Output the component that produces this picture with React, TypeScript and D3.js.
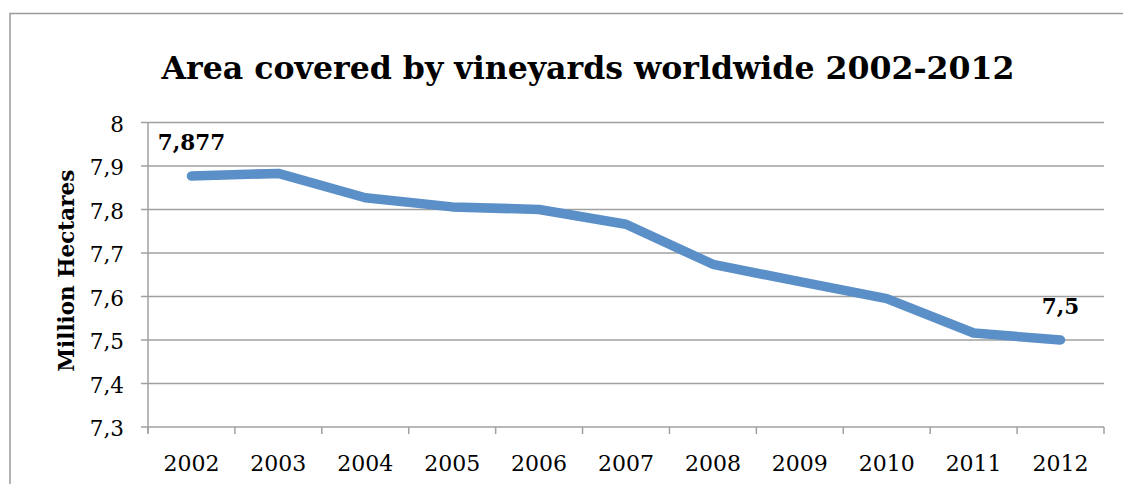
import React from "react";
import * as d3 from "d3";

const years: string[] = ["2002", "2003", "2004", "2005", "2006", "2007", "2008", "2009", "2010", "2011", "2012"];
const hectares: number[] = [7.877, 7.883, 7.827, 7.806, 7.8, 7.766, 7.674, 7.634, 7.595, 7.516, 7.5];
const yTicks: number[] = [7.3, 7.4, 7.5, 7.6, 7.7, 7.8, 7.9, 8];
const labelled: { index: number; text: string }[] = [
  { index: 0, text: "7,877" },
  { index: 10, text: "7,5" },
];
const title = "Area covered by vineyards worldwide 2002-2012";
const yTitle = "Million Hectares";

const W = 1123;
const H = 484;
const M = { left: 148, right: 1104, top: 122.5, bottom: 427 };
const FONT = "'DejaVu Serif', serif";
const GRID = "#a0a0a0";

export default function App() {
  const x = d3.scaleBand<string>().domain(years).range([M.left, M.right]);
  const y = d3.scaleLinear().domain([7.3, 8]).range([M.bottom, M.top]);
  const cx = (i: number) => (x(years[i]) as number) + x.bandwidth() / 2;
  const line = d3
    .line<number>()
    .x((_, i) => cx(i))
    .y((d) => y(d));
  const boundaries = years.map((yr) => x(yr) as number).concat([M.right]);

  return (
    <svg
      width={W}
      height={H}
      style={{ position: "absolute", left: 0, top: 0, background: "#fff" }}
    >
      <rect x={10} y={13.5} width={W + 20} height={H + 20} fill="#fff" stroke="#9a9a9a" strokeWidth={1.5} />
      <text x={588} y={78.5} textAnchor="middle" fontFamily={FONT} fontWeight="bold" fontSize={31.6} fill="#000">
        {title}
      </text>
      {yTicks.map((t) => (
        <g key={t}>
          <line x1={M.left - 7} x2={M.right} y1={y(t)} y2={y(t)} stroke={GRID} strokeWidth={1.5} />
          <text
            x={124}
            y={y(t)}
            dy="0.42em"
            textAnchor="end"
            fontFamily={FONT}
            fontSize={21.5}
            fill="#000"
          >
            {d3.format(".1f")(t).replace(".", ",").replace(",0", "")}
          </text>
        </g>
      ))}
      <line x1={M.left} x2={M.left} y1={M.top} y2={M.bottom + 6} stroke={GRID} strokeWidth={1.5} />
      {boundaries.map((b, i) => (
        <line key={i} x1={b} x2={b} y1={M.bottom} y2={M.bottom + 7} stroke={GRID} strokeWidth={1.5} />
      ))}
      {years.map((yr, i) => (
        <text key={yr} x={cx(i)} y={471} textAnchor="middle" fontFamily={FONT} fontSize={22} fill="#000">
          {yr}
        </text>
      ))}
      <text
        transform={`translate(74, ${(M.top + M.bottom) / 2 - 4}) rotate(-90)`}
        textAnchor="middle"
        fontFamily={FONT}
        fontWeight="bold"
        fontSize={21.5}
        fill="#000"
      >
        {yTitle}
      </text>
      <path
        d={line(hectares) as string}
        fill="none"
        stroke="#5B8FC8"
        strokeWidth={9.5}
        strokeLinecap="round"
        strokeLinejoin="round"
      />
      {labelled.map((l) => (
        <text
          key={l.index}
          x={cx(l.index)}
          y={y(hectares[l.index]) - 26}
          textAnchor="middle"
          fontFamily={FONT}
          fontWeight="bold"
          fontSize={21.5}
          fill="#000"
        >
          {l.text}
        </text>
      ))}
    </svg>
  );
}
